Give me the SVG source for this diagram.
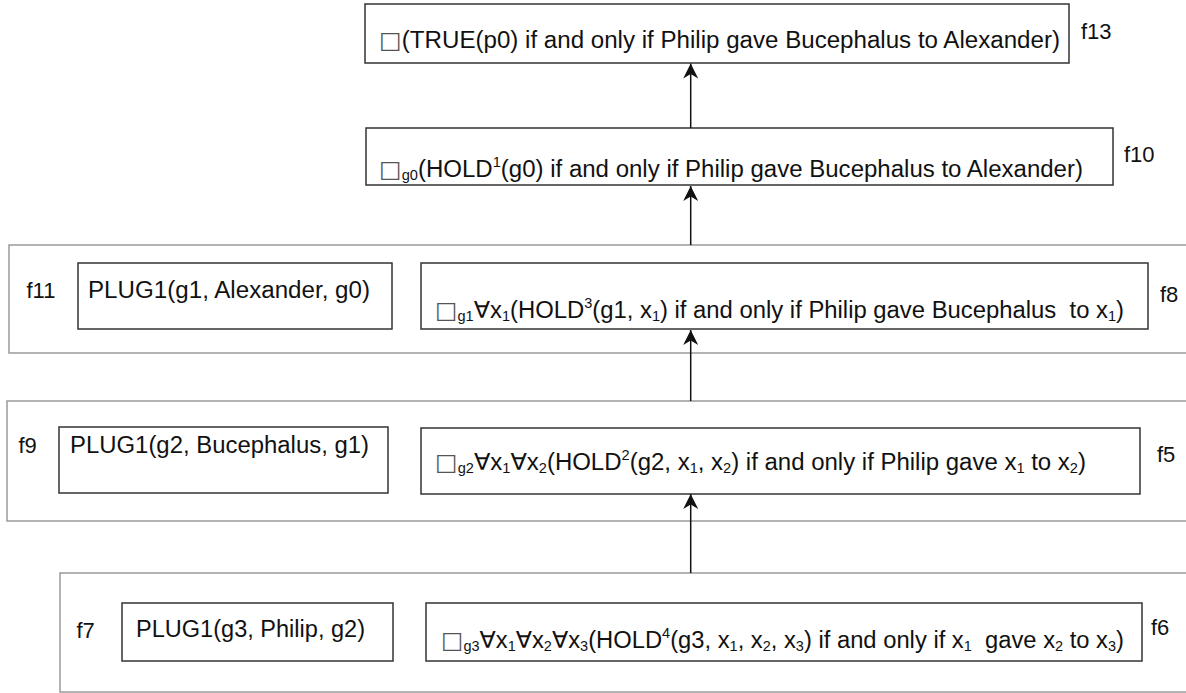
<svg xmlns="http://www.w3.org/2000/svg" width="1186" height="693" viewBox="0 0 1186 693">
<style>
text{font-family:"Liberation Sans",Arial,"DejaVu Sans",sans-serif;fill:#111}
.t{font-size:23px}
.c{font-size:23px}
.lbl{font-size:22px}
.box{fill:#fff;stroke:#333;stroke-width:1.5}
.frame{fill:none;stroke:#9a9a9a;stroke-width:1.5}
.conn{stroke:#111;stroke-width:1.5;fill:none;marker-end:url(#ah)}
.sq{font-family:"DejaVu Sans",sans-serif;fill:#555}
</style>
<defs>
<marker id="ah" markerWidth="16" markerHeight="16" refX="15" refY="7.5" orient="auto" markerUnits="userSpaceOnUse">
<path d="M0,0 L15,7.5 L0,15 L4.5,7.5 Z" fill="#111"/>
</marker>
</defs>
<rect class="frame" x="9" y="245" width="1190" height="108"/>
<rect class="frame" x="7" y="401" width="1192" height="120"/>
<rect class="frame" x="60" y="573" width="1140" height="119"/>

<g id="f13">
<rect class="box" x="365" y="4" width="704" height="59"/>
<text class="t" x="379" y="47.5" textLength="681" lengthAdjust="spacingAndGlyphs"><tspan class="sq">□</tspan>(TRUE(p0) if and only if Philip gave Bucephalus to Alexander)</text>
<text class="lbl" x="1081" y="39">f13</text>
</g>
<g id="f10">
<rect class="box" x="366" y="128" width="747" height="57"/>
<text class="t" x="379" y="177" textLength="704" lengthAdjust="spacingAndGlyphs"><tspan class="sq">□</tspan><tspan font-size="14" dy="3">g0</tspan><tspan dy="-3">(HOLD</tspan><tspan font-size="14" dy="-10">1</tspan><tspan dy="10">(g0) if and only if Philip gave Bucephalus to Alexander)</tspan></text>
<text class="lbl" x="1124" y="162">f10</text>
</g>
<g id="f11">
<rect class="box" x="78" y="263" width="314" height="66"/>
<text class="lbl" x="26.5" y="298">f11</text>
<text class="t" x="88" y="298" textLength="282" lengthAdjust="spacingAndGlyphs">PLUG1(g1, Alexander, g0)</text>
</g>
<g id="f8">
<rect class="box" x="421" y="263" width="727" height="66"/>
<text class="c" x="435" y="318" textLength="689" lengthAdjust="spacingAndGlyphs"><tspan class="sq">□</tspan><tspan font-size="14" dy="3">g1</tspan><tspan dy="-3">∀x</tspan><tspan font-size="14" dy="3">1</tspan><tspan dy="-3">(HOLD</tspan><tspan font-size="14" dy="-10">3</tspan><tspan dy="10">(g1, x</tspan><tspan font-size="14" dy="3">1</tspan><tspan dy="-3">) if and only if Philip gave Bucephalus&#160; to x</tspan><tspan font-size="14" dy="3">1</tspan><tspan dy="-3">)</tspan></text>
<text class="lbl" x="1160" y="302">f8</text>
</g>
<g id="f9">
<rect class="box" x="59" y="427" width="329" height="66"/>
<text class="lbl" x="18.5" y="453">f9</text>
<text class="t" x="70" y="453" textLength="299" lengthAdjust="spacingAndGlyphs">PLUG1(g2, Bucephalus, g1)</text>
</g>
<g id="f5">
<rect class="box" x="421" y="428" width="719" height="66"/>
<text class="c" x="435" y="470" textLength="651" lengthAdjust="spacingAndGlyphs"><tspan class="sq">□</tspan><tspan font-size="14" dy="3">g2</tspan><tspan dy="-3">∀x</tspan><tspan font-size="14" dy="3">1</tspan><tspan dy="-3">∀x</tspan><tspan font-size="14" dy="3">2</tspan><tspan dy="-3">(HOLD</tspan><tspan font-size="14" dy="-10">2</tspan><tspan dy="10">(g2, x</tspan><tspan font-size="14" dy="3">1</tspan><tspan dy="-3">, x</tspan><tspan font-size="14" dy="3">2</tspan><tspan dy="-3">) if and only if Philip gave x</tspan><tspan font-size="14" dy="3">1</tspan><tspan dy="-3"> to x</tspan><tspan font-size="14" dy="3">2</tspan><tspan dy="-3">)</tspan></text>
<text class="lbl" x="1157" y="462">f5</text>
</g>
<g id="f7">
<rect class="box" x="122" y="603" width="271" height="58"/>
<text class="lbl" x="76.5" y="638">f7</text>
<text class="t" x="136" y="637" textLength="229" lengthAdjust="spacingAndGlyphs">PLUG1(g3, Philip, g2)</text>
</g>
<g id="f6">
<rect class="box" x="426" y="603" width="716" height="58"/>
<text class="c" x="441" y="648" textLength="683" lengthAdjust="spacingAndGlyphs"><tspan class="sq">□</tspan><tspan font-size="14" dy="3">g3</tspan><tspan dy="-3">∀x</tspan><tspan font-size="14" dy="3">1</tspan><tspan dy="-3">∀x</tspan><tspan font-size="14" dy="3">2</tspan><tspan dy="-3">∀x</tspan><tspan font-size="14" dy="3">3</tspan><tspan dy="-3">(HOLD</tspan><tspan font-size="14" dy="-10">4</tspan><tspan dy="10">(g3, x</tspan><tspan font-size="14" dy="3">1</tspan><tspan dy="-3">, x</tspan><tspan font-size="14" dy="3">2</tspan><tspan dy="-3">, x</tspan><tspan font-size="14" dy="3">3</tspan><tspan dy="-3">) if and only if x</tspan><tspan font-size="14" dy="3">1</tspan><tspan dy="-3">&#160; gave x</tspan><tspan font-size="14" dy="3">2</tspan><tspan dy="-3"> to x</tspan><tspan font-size="14" dy="3">3</tspan><tspan dy="-3">)</tspan></text>
<text class="lbl" x="1151" y="635">f6</text>
</g>

<g id="connectors">
<line class="conn" x1="690.7" y1="128" x2="690.7" y2="63.5"/>
<line class="conn" x1="690.7" y1="245" x2="690.7" y2="186"/>
<line class="conn" x1="690.7" y1="401" x2="690.7" y2="330"/>
<line class="conn" x1="690.7" y1="573" x2="690.7" y2="494"/>
</g>
</svg>
